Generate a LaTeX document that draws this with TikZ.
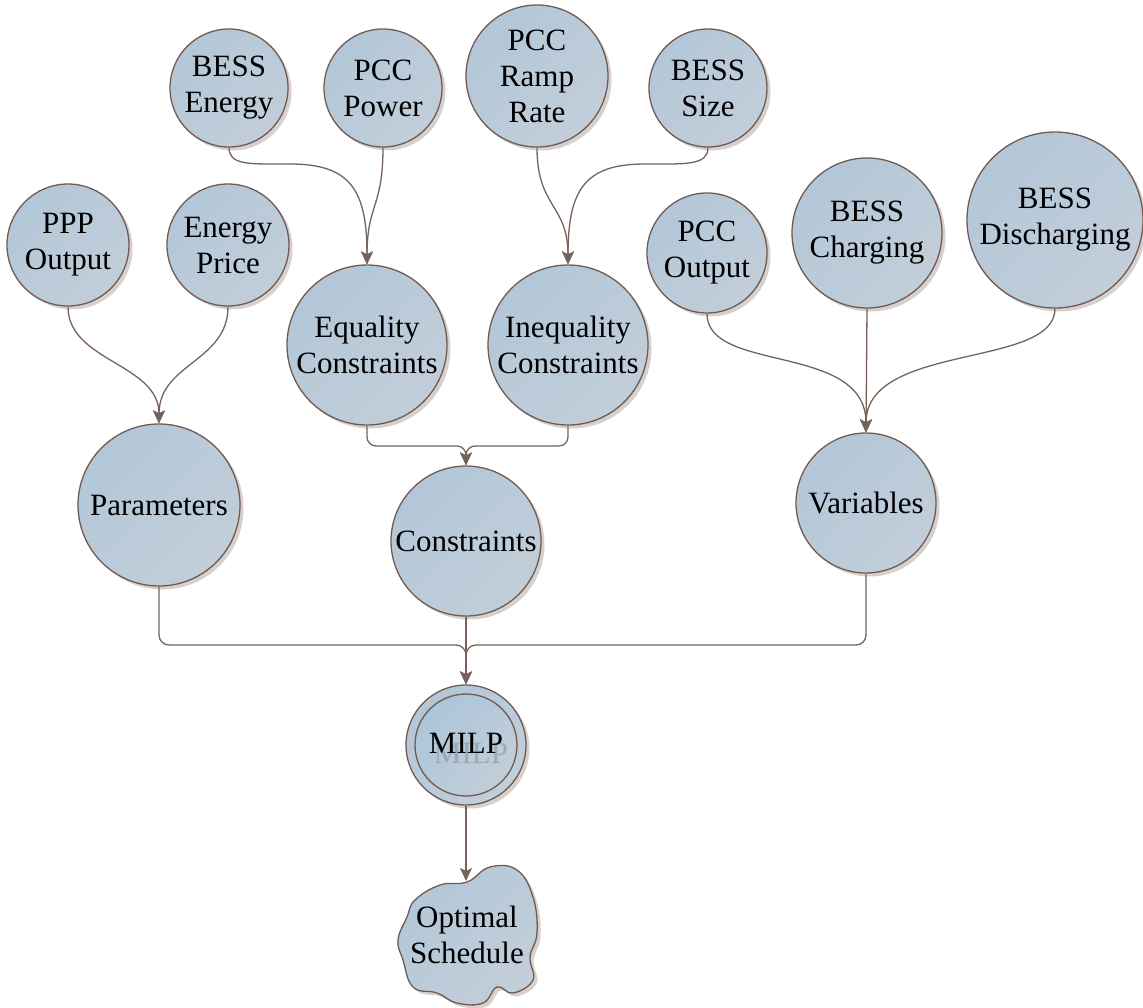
\documentclass[tikz,border=0pt]{standalone}
\usepackage{fontspec}
\setmainfont{Liberation Serif}
\usetikzlibrary{shadows,arrows.meta}
\definecolor{fillA}{HTML}{B3C7D8}
\definecolor{fillB}{HTML}{C2CED9}
\definecolor{fillIn}{HTML}{ADC5DA}
\definecolor{edgec}{HTML}{6F5B53}
\definecolor{linkc}{HTML}{76625B}
\definecolor{shadc}{HTML}{D8D0CC}
\tikzset{
  bubtext/.style={font=\fontsize{31}{36}\selectfont, align=center},
  bubble/.style={circle, draw=edgec, line width=1.3pt, inner sep=0pt, bubtext,
    top color=fillA, bottom color=fillB, shading angle=45,
    drop shadow={shadow xshift=3.5pt, shadow yshift=-3.5pt, fill=shadc, opacity=1}},
  link/.style={draw=linkc, line width=1.3pt, -{Stealth[length=13pt,width=12pt,inset=3pt]}},
}
\begin{document}
\begin{tikzpicture}[x=1pt,y=-1pt]
\useasboundingbox (0,0) rectangle (1143,1007);
% top row
\node[bubble, minimum size=118pt] (BE) at (229,88) {BESS\\Energy};
\node[bubble, minimum size=118pt] (PP) at (383,88) {PCC\\Power};
\node[bubble, minimum size=142pt] (PR) at (537,76) {PCC\\Ramp\\Rate};
\node[bubble, minimum size=118pt] (BS) at (708,88) {BESS\\Size};
% second row
\node[bubble, minimum size=122pt] (PPP) at (68,245) {PPP\\Output};
\node[bubble, minimum size=122pt] (EP) at (228,245) {Energy\\Price};
\node[bubble, minimum size=160pt] (EQ) at (367,345) {Equality\\Constraints};
\node[bubble, minimum size=160pt] (IQ) at (568,345) {Inequality\\Constraints};
\node[bubble, minimum size=120pt] (PCO) at (707,253) {PCC\\Output};
\node[bubble, minimum size=150pt] (BC) at (867,233) {BESS\\Charging};
\node[bubble, minimum size=176pt] (BD) at (1055,220) {BESS\\Discharging};
% third row
\node[bubble, minimum size=162pt] (PA) at (159,505) {Parameters};
\node[bubble, minimum size=150pt] (CO) at (466,541) {Constraints};
\node[bubble, minimum size=140pt] (VA) at (866,503) {Variables};
% MILP
\node[bubble, minimum size=120pt] (MI) at (466,745) {};
\node[circle, draw=edgec, line width=1.3pt, inner sep=0pt, minimum size=102pt,
      top color=fillIn, bottom color=fillB, shading angle=45] (MIin) at (MI) {};
\node[bubtext, text=black, opacity=0.16] (MIghost) at (471,753) {MILP};
\node[bubtext] (MItext) at (466,743) {MILP};
% cloud
\path[draw=edgec, line width=1.3pt, top color=fillA, bottom color=fillB, shading angle=45,
      drop shadow={shadow xshift=3.5pt, shadow yshift=-3.5pt, fill=shadc, opacity=1}]
  plot[smooth cycle, tension=0.7] coordinates {(415,900) (440,885) (467,882) (490,867) (517,870) (533,897) (537,933) (530,957) (533,980) (513,993) (497,987) (483,1003) (457,1003) (437,993) (413,987) (403,960) (398,940) (407,917)};
\node[bubtext] (OS) at (467,935) {Optimal\\Schedule};
\coordinate (OStop) at (466,881);
% junctions
\coordinate (j1) at (466,446);
\coordinate (j2) at (466,645);
% connectors
\draw[link] (BE.south) .. controls +(0,18) and +(-40,0) .. (290,164) .. controls +(60,0) and +(0,-75) .. (EQ.north);
\draw[link] (PP.south) .. controls +(0,60) and +(0,-60) .. (EQ.north);
\draw[link] (PR.south) .. controls +(0,60) and +(0,-60) .. (IQ.north);
\draw[link] (BS.south) .. controls +(0,18) and +(40,0) .. (645,164) .. controls +(-60,0) and +(0,-75) .. (IQ.north);
\draw[link] (PPP.south) .. controls +(0,55) and +(0,-60) .. (PA.north);
\draw[link] (EP.south) .. controls +(0,55) and +(0,-60) .. (PA.north);
\draw[link] (PCO.south) .. controls +(0,60) and +(0,-90) .. (VA.north);
\draw[link] (BC.south) -- (VA.north);
\draw[link] (BD.south) .. controls +(0,60) and +(0,-90) .. (VA.north);
\draw[link, rounded corners=9pt] (EQ.south) |- (j1) -- (CO.north);
\draw[link, rounded corners=9pt] (IQ.south) |- (j1) -- (CO.north);
\draw[link, rounded corners=10pt] (PA.south) |- (j2) -- (MI.north);
\draw[link, rounded corners=10pt] (VA.south) |- (j2) -- (MI.north);
\draw[link] (CO.south) -- (MI.north);
\draw[link] (MI.south) -- (OStop);
\end{tikzpicture}
\end{document}
